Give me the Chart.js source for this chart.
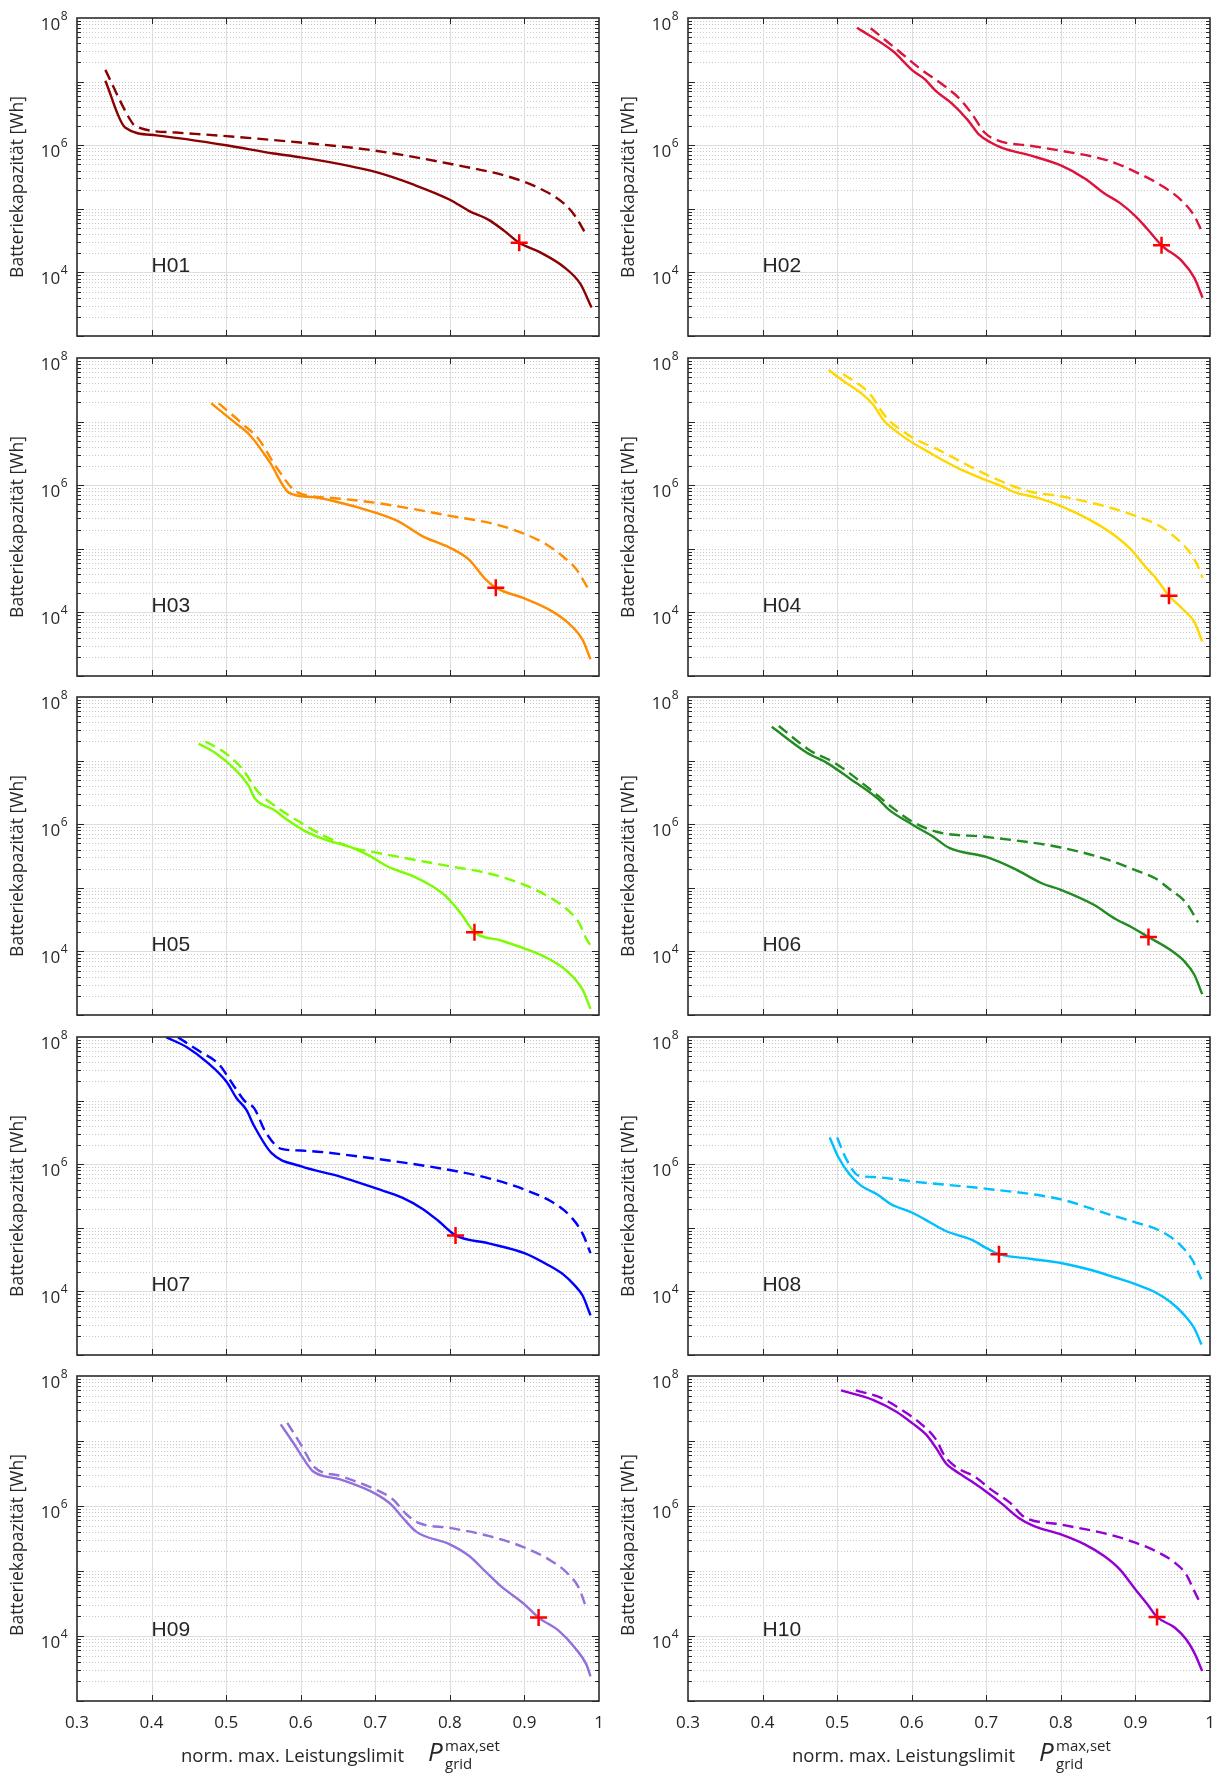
<!DOCTYPE html>
<html>
<head>
<meta charset="utf-8">
<script src="https://cdn.jsdelivr.net/npm/chart.js@4/dist/chart.umd.min.js"></script>
<style>
  body { margin: 0; background: #fff; width: 1220px; height: 1778px; position: relative; overflow: hidden; }
  canvas { position: absolute; }
</style>
</head>
<body>
<script>
const limitTicks = [0.3, 0.4, 0.5, 0.6, 0.7, 0.8, 0.9, 1];
const capExponents = [4, 6, 8];
const houseNames = ['H01', 'H02', 'H03', 'H04', 'H05', 'H06', 'H07', 'H08', 'H09', 'H10'];
const houseColors = ['#8b0000', '#dc143c', '#ff8c00', '#ffd700', '#7cfc00', '#228b22', '#0000ff', '#00bfff', '#9370db', '#9400d3'];

// durchgezogen: Kapazitaet ueber norm. Leistungslimit
const h01Limit = [0.338, 0.3645, 0.4065, 0.5, 0.5638, 0.6, 0.7, 0.7525, 0.8, 0.826, 0.852, 0.873, 0.893, 0.92, 0.952, 0.975, 0.99];
const h01Cap = [1.03e7, 1.9e6, 1.43e6, 1.0e6, 7.4e5, 6.45e5, 3.8e5, 2.37e5, 1.39e5, 9.2e4, 6.7e4, 4.5e4, 2.93e4, 2.1e4, 1.24e4, 6.6e3, 2.8e3];
const h02Limit = [0.5267, 0.575, 0.601, 0.617, 0.633, 0.654, 0.675, 0.69, 0.706, 0.722, 0.759, 0.8, 0.832, 0.858, 0.879, 0.9, 0.916, 0.935, 0.963, 0.979, 0.99];
const h02Cap = [7.0e7, 3.0e7, 1.5e7, 1.1e7, 7.0e6, 4.5e6, 2.5e6, 1.48e6, 1.1e6, 9.0e5, 6.9e5, 4.8e5, 3.0e5, 1.76e5, 1.24e5, 7.7e4, 4.8e4, 2.67e4, 1.48e4, 8.2e3, 4.0e3];
const h03Limit = [0.48, 0.511, 0.532, 0.5585, 0.585, 0.616, 0.6424, 0.7, 0.7316, 0.763, 0.8, 0.826, 0.847, 0.8616, 0.9, 0.931, 0.957, 0.978, 0.9886];
const h03Cap = [1.94e7, 9.8e6, 6.1e6, 2.31e6, 7.5e5, 6.5e5, 5.7e5, 3.7e5, 2.67e5, 1.58e5, 1.04e5, 6.7e4, 3.4e4, 2.45e4, 1.66e4, 1.14e4, 7.1e3, 3.7e3, 1.83e3];
const h04Limit = [0.4884, 0.509, 0.533, 0.5487, 0.5618, 0.5907, 0.627, 0.664, 0.7, 0.722, 0.7375, 0.769, 0.8, 0.837, 0.869, 0.895, 0.911, 0.927, 0.945, 0.963, 0.979, 0.9895];
const h04Cap = [6.5e7, 4.3e7, 2.76e7, 1.82e7, 1.07e7, 5.6e6, 3.1e6, 1.81e6, 1.2e6, 9.5e5, 7.8e5, 6.3e5, 4.7e5, 2.93e5, 1.72e5, 9.5e4, 5.6e4, 3.5e4, 1.83e4, 1.14e4, 7.1e3, 3.5e3];
const h05Limit = [0.463, 0.4851, 0.5113, 0.5297, 0.5386, 0.5638, 0.5847, 0.6057, 0.637, 0.6686, 0.692, 0.7158, 0.7525, 0.7735, 0.7945, 0.8155, 0.833, 0.868, 0.9, 0.931, 0.957, 0.978, 0.9886];
const h05Cap = [1.85e7, 1.33e7, 7.4e6, 4.1e6, 2.54e6, 1.68e6, 1.11e6, 7.8e5, 5.5e5, 4.3e5, 3.2e5, 2.18e5, 1.49e5, 1.11e5, 7.4e4, 3.85e4, 2.0e4, 1.49e4, 1.11e4, 7.8e3, 4.9e3, 2.5e3, 1.25e3];
const h06Limit = [0.4123, 0.4595, 0.4857, 0.5172, 0.554, 0.5697, 0.6, 0.6274, 0.651, 0.7008, 0.7375, 0.7743, 0.8, 0.843, 0.874, 0.895, 0.9175, 0.947, 0.966, 0.979, 0.9895];
const h06Cap = [3.4e7, 1.33e7, 9.3e6, 5.2e6, 2.54e6, 1.68e6, 1.0e6, 6.5e5, 4.2e5, 3.03e5, 2.0e5, 1.18e5, 9.3e4, 5.5e4, 3.2e4, 2.4e4, 1.68e4, 1.05e4, 6.9e3, 4.3e3, 2.13e3];
const h07Limit = [0.4196, 0.4484, 0.4746, 0.5008, 0.514, 0.527, 0.5375, 0.561, 0.6, 0.6529, 0.7, 0.7368, 0.763, 0.784, 0.8076, 0.852, 0.9, 0.931, 0.952, 0.968, 0.978, 0.9886];
const h07Cap = [9.9e7, 6.8e7, 4.0e7, 1.96e7, 1.09e7, 7.2e6, 4.0e6, 1.49e6, 9.3e5, 6.4e5, 4.2e5, 2.96e5, 2.0e5, 1.3e5, 7.6e4, 5.7e4, 4.0e4, 2.63e4, 1.85e4, 1.22e4, 8.6e3, 4.2e3];
const h08Limit = [0.49, 0.5015, 0.5172, 0.532, 0.554, 0.5723, 0.6, 0.617, 0.6457, 0.68, 0.7008, 0.717, 0.7585, 0.8, 0.843, 0.874, 0.9, 0.9265, 0.947, 0.966, 0.979, 0.9885];
const h08Cap = [2.63e6, 1.3e6, 6.8e5, 4.6e5, 3.33e5, 2.34e5, 1.74e5, 1.37e5, 8.9e4, 6.5e4, 4.75e4, 3.85e4, 3.26e4, 2.8e4, 2.13e4, 1.64e4, 1.3e4, 9.7e3, 6.8e3, 4.2e3, 2.63e3, 1.46e3];
const h09Limit = [0.5732, 0.59, 0.603, 0.616, 0.653, 0.7, 0.721, 0.7368, 0.7552, 0.8, 0.826, 0.847, 0.868, 0.9, 0.919, 0.9466, 0.9676, 0.983, 0.9886];
const h09Cap = [1.8e7, 9.4e6, 5.5e6, 3.45e6, 2.57e6, 1.55e6, 1.06e6, 6.6e5, 4.0e5, 2.57e5, 1.7e5, 1.0e5, 5.9e4, 3.07e4, 1.92e4, 1.19e4, 6.6e3, 3.66e3, 2.4e3];
const h10Limit = [0.5051, 0.5487, 0.58, 0.601, 0.6197, 0.633, 0.646, 0.6565, 0.68, 0.7, 0.722, 0.743, 0.764, 0.8, 0.832, 0.858, 0.879, 0.9, 0.916, 0.929, 0.953, 0.968, 0.979, 0.9895];
const h10Cap = [6.0e7, 4.27e7, 2.8e7, 1.87e7, 1.24e7, 7.7e6, 4.5e6, 3.6e6, 2.4e6, 1.66e6, 1.06e6, 6.6e5, 4.9e5, 3.66e5, 2.57e5, 1.7e5, 1.06e5, 5.2e4, 3.07e4, 1.96e4, 1.34e4, 8.9e3, 5.5e3, 2.9e3];

// gestrichelt: Vergleichskurve
const h01LimitDash = [0.338, 0.37, 0.378, 0.433, 0.5, 0.6, 0.7, 0.8, 0.879, 0.915, 0.952, 0.968, 0.983];
const h01CapDash = [1.53e7, 2.67e6, 2.0e6, 1.58e6, 1.39e6, 1.1e6, 8.2e5, 5.1e5, 3.2e5, 2.24e5, 1.24e5, 7.7e4, 3.9e4];
const h02LimitDash = [0.545, 0.58, 0.612, 0.643, 0.664, 0.68, 0.698, 0.717, 0.759, 0.8, 0.864, 0.9, 0.937, 0.963, 0.979, 0.99];
const h02CapDash = [6.9e7, 3.2e7, 1.57e7, 8.7e6, 5.4e6, 3.2e6, 1.57e6, 1.17e6, 9.8e5, 8.2e5, 5.7e5, 3.8e5, 2.24e5, 1.31e5, 7.7e4, 4.17e4];
const h03LimitDash = [0.49, 0.522, 0.543, 0.569, 0.595, 0.6424, 0.7, 0.8, 0.863, 0.9, 0.931, 0.952, 0.97, 0.986];
const h03CapDash = [1.94e7, 9.2e6, 5.4e6, 1.8e6, 7.8e5, 6.3e5, 5.3e5, 3.3e5, 2.4e5, 1.72e5, 1.14e5, 7.5e4, 4.7e4, 2.3e4];
const h04LimitDash = [0.508, 0.5434, 0.5644, 0.596, 0.638, 0.675, 0.706, 0.732, 0.759, 0.8, 0.864, 0.9, 0.932, 0.953, 0.969, 0.982, 0.99];
const h04CapDash = [5.6e7, 2.76e7, 1.22e7, 6.1e6, 3.5e6, 2.06e6, 1.36e6, 1.01e6, 7.9e5, 6.7e5, 4.5e5, 3.3e5, 2.3e5, 1.53e5, 1.0e5, 5.9e4, 3.5e4];
const h05LimitDash = [0.472, 0.4956, 0.5218, 0.543, 0.5638, 0.6005, 0.632, 0.6686, 0.7, 0.8, 0.8523, 0.9, 0.931, 0.957, 0.973, 0.983, 0.99];
const h05CapDash = [2.0e7, 1.4e7, 7.4e6, 3.2e6, 2.0e6, 1.05e6, 6.5e5, 4.3e5, 3.6e5, 2.18e5, 1.68e5, 1.11e5, 7.4e4, 4.6e4, 2.86e4, 1.58e4, 1.18e4];
const h06LimitDash = [0.4217, 0.4647, 0.4962, 0.5487, 0.5723, 0.6, 0.633, 0.7008, 0.8, 0.8635, 0.9, 0.9265, 0.947, 0.968, 0.984];
const h06CapDash = [3.5e7, 1.42e7, 9.3e6, 3.2e6, 1.89e6, 1.11e6, 7.6e5, 6.3e5, 4.3e5, 2.75e5, 1.89e5, 1.41e5, 9.3e4, 5.8e4, 2.86e4];
const h07LimitDash = [0.4353, 0.464, 0.49, 0.5113, 0.5244, 0.5375, 0.5533, 0.5743, 0.6, 0.7, 0.8, 0.8523, 0.9, 0.942, 0.963, 0.978, 0.9886];
const h07CapDash = [9.9e7, 6.0e7, 3.75e7, 1.64e7, 1.0e7, 7.6e6, 3.14e6, 1.74e6, 1.64e6, 1.22e6, 8.1e5, 6.0e5, 4.0e5, 2.35e5, 1.46e5, 8.1e4, 4.0e4];
const h08LimitDash = [0.5, 0.512, 0.529, 0.5488, 0.6, 0.7008, 0.8, 0.8635, 0.9, 0.932, 0.958, 0.976, 0.9885];
const h08CapDash = [2.63e6, 1.22e6, 6.6e5, 6.3e5, 5.35e5, 4.1e5, 2.8e5, 1.64e5, 1.22e5, 9.1e4, 5.7e4, 3.15e4, 1.55e4];
const h09LimitDash = [0.582, 0.6, 0.619, 0.653, 0.7, 0.7237, 0.742, 0.758, 0.8, 0.852, 0.9, 0.936, 0.957, 0.973, 0.983];
const h09CapDash = [1.9e7, 8.9e6, 3.9e6, 2.9e6, 1.8e6, 1.26e6, 7.4e5, 5.5e5, 4.6e5, 3.46e5, 2.3e5, 1.43e5, 9.4e4, 5.5e4, 2.7e4];
const h10LimitDash = [0.525, 0.559, 0.5907, 0.6117, 0.633, 0.6434, 0.659, 0.685, 0.706, 0.732, 0.75, 0.8, 0.864, 0.9, 0.932, 0.953, 0.968, 0.979, 0.987];
const h10CapDash = [6.0e7, 4.6e7, 2.8e7, 1.87e7, 1.04e7, 6.1e6, 4.0e6, 2.8e6, 1.8e6, 1.12e6, 6.9e5, 5.2e5, 3.66e5, 2.73e5, 1.9e5, 1.34e5, 8.9e4, 4.9e4, 3.2e4];

// gewaehlter Betriebspunkt (rotes Kreuz)
const markLimit = [0.893, 0.935, 0.8616, 0.945, 0.833, 0.9175, 0.8076, 0.717, 0.919, 0.929];
const markCap = [2.93e4, 2.67e4, 2.45e4, 1.83e4, 2.0e4, 1.68e4, 7.6e4, 3.85e4, 1.92e4, 1.96e4];

const solidLimits = [h01Limit, h02Limit, h03Limit, h04Limit, h05Limit, h06Limit, h07Limit, h08Limit, h09Limit, h10Limit];
const solidCaps = [h01Cap, h02Cap, h03Cap, h04Cap, h05Cap, h06Cap, h07Cap, h08Cap, h09Cap, h10Cap];
const dashLimits = [h01LimitDash, h02LimitDash, h03LimitDash, h04LimitDash, h05LimitDash, h06LimitDash, h07LimitDash, h08LimitDash, h09LimitDash, h10LimitDash];
const dashCaps = [h01CapDash, h02CapDash, h03CapDash, h04CapDash, h05CapDash, h06CapDash, h07CapDash, h08CapDash, h09CapDash, h10CapDash];

const panelTops = [17, 357, 696, 1036, 1375];
const AXIS = '#262626';

function pairs(xs, ys) {
    return xs.map((x, i) => ({ x: x, y: ys[i] }));
}

function hline(ctx, x0, x1, y) {
    ctx.beginPath(); ctx.moveTo(x0, y); ctx.lineTo(x1, y); ctx.stroke();
}
function vline(ctx, x, y0, y1) {
    ctx.beginPath(); ctx.moveTo(x, y0); ctx.lineTo(x, y1); ctx.stroke();
}

// MATLAB-artiges Gitter, Rahmen, Ticks nach innen und Beschriftungen
const panelDecor = {
    id: 'panelDecor',
    beforeDatasetsDraw(chart, args, opts) {
        const { ctx, chartArea: a, scales: { x, y } } = chart;
        ctx.save();
        ctx.lineWidth = 1;
        // Nebengitter (gepunktet)
        ctx.strokeStyle = '#c9c9c9';
        ctx.setLineDash([1, 2]);
        for (let e = 3; e < 8; e++) {
            for (let m = 1; m < 10; m++) {
                if (m === 1 && (e === 3 || e % 2 === 0)) continue;
                const py = Math.round(y.getPixelForValue(m * Math.pow(10, e))) + 0.5;
                hline(ctx, a.left, a.right, py);
            }
        }
        // Hauptgitter
        ctx.setLineDash([]);
        ctx.strokeStyle = '#dedede';
        capExponents.forEach(e => {
            if (e === 8) return;
            const py = Math.round(y.getPixelForValue(Math.pow(10, e))) + 0.5;
            hline(ctx, a.left, a.right, py);
        });
        limitTicks.slice(1, -1).forEach(v => {
            const px = Math.round(x.getPixelForValue(v)) + 0.5;
            vline(ctx, px, a.top, a.bottom);
        });
        ctx.restore();
    },
    afterDatasetsDraw(chart, args, opts) {
        const { ctx, chartArea: a, scales: { x, y } } = chart;
        ctx.save();
        ctx.strokeStyle = AXIS;
        ctx.lineWidth = 1;
        // Ticks nach innen
        limitTicks.slice(1, -1).forEach(v => {
            const px = Math.round(x.getPixelForValue(v)) + 0.5;
            vline(ctx, px, a.bottom, a.bottom - 6);
            vline(ctx, px, a.top, a.top + 6);
        });
        for (let e = 3; e < 8; e++) {
            for (let m = 1; m < 10; m++) {
                const py = Math.round(y.getPixelForValue(m * Math.pow(10, e))) + 0.5;
                const len = m === 1 ? 7 : 4;
                hline(ctx, a.left, a.left + len, py);
                hline(ctx, a.right, a.right - len, py);
            }
        }
        // Rahmen
        ctx.lineWidth = 1.6;
        ctx.strokeStyle = '#2b2b2b';
        ctx.strokeRect(a.left, a.top, a.right - a.left, a.bottom - a.top);

        // y-Tickbeschriftung 10^n
        ctx.fillStyle = AXIS;
        ctx.textAlign = 'left';
        ctx.textBaseline = 'alphabetic';
        capExponents.forEach(e => {
            const ty = y.getPixelForValue(Math.pow(10, e));
            ctx.font = '17px "Open Sans"';
            const wBase = ctx.measureText('10').width;
            ctx.font = '12px "Open Sans"';
            const wExp = ctx.measureText(String(e)).width;
            const x0 = a.left - 9.5 - wBase - wExp - 0.5;
            ctx.font = '17px "Open Sans"';
            ctx.fillText('10', x0, ty + 12);
            ctx.font = '12px "Open Sans"';
            ctx.fillText(String(e), x0 + wBase + 0.5, ty + 2);
        });

        // Hausbezeichnung
        ctx.font = '21px "Liberation Sans", Arial, sans-serif';
        ctx.fillText(opts.name, x.getPixelForValue(0.4), y.getPixelForValue(1e4));

        // y-Achsentitel
        ctx.save();
        ctx.translate(18, a.top + 169);
        ctx.rotate(-Math.PI / 2);
        ctx.textAlign = 'center';
        ctx.textBaseline = 'middle';
        ctx.font = '17.5px "Open Sans"';
        ctx.fillText('Batteriekapazität [Wh]', 0, 0);
        ctx.restore();

        // x-Achsentitel nur in der unteren Zeile
        if (opts.last) {
            ctx.textAlign = 'left';
            ctx.font = '18.5px "Open Sans"';
            ctx.fillText('norm. max. Leistungslimit', a.left + 104, a.bottom + 61);
            ctx.font = 'italic 26px "Open Sans"';
            ctx.fillText('P', a.left + 351, a.bottom + 60);
            ctx.font = '15px "Open Sans"';
            ctx.fillText('max,set', a.left + 368, a.bottom + 50);
            ctx.fillText('grid', a.left + 368, a.bottom + 68);
        }
        ctx.restore();
    }
};

function makePanel(i) {
    const row = Math.floor(i / 2);
    const col = i % 2;
    const last = row === 4;
    const cv = document.createElement('canvas');
    cv.width = 610;
    cv.height = last ? 413 : 340;
    cv.style.left = (col ? 611 : 0) + 'px';
    cv.style.top = (panelTops[row] - 10) + 'px';
    cv.style.width = cv.width + 'px';
    cv.style.height = cv.height + 'px';
    document.body.appendChild(cv);

    const farbe = houseColors[i];
    return new Chart(cv, {
        type: 'line',
        data: {
            datasets: [{
                data: [{ x: markLimit[i], y: markCap[i] }],
                showLine: false,
                pointStyle: 'cross',
                pointRadius: 8.5,
                pointBorderWidth: 2.5,
                pointBorderColor: '#ff0000',
                borderColor: '#ff0000'
            }, {
                data: pairs(solidLimits[i], solidCaps[i]),
                borderColor: farbe,
                borderWidth: 2.4,
                pointRadius: 0,
                cubicInterpolationMode: 'monotone'
            }, {
                data: pairs(dashLimits[i], dashCaps[i]),
                borderColor: farbe,
                borderWidth: 2.4,
                borderDash: [11, 6],
                pointRadius: 0,
                cubicInterpolationMode: 'monotone'
            }]
        },
        options: {
            responsive: false,
            animation: false,
            events: [],
            layout: { padding: { left: 0, right: 5, top: 10, bottom: last ? 0 : 4 } },
            plugins: {
                legend: { display: false },
                tooltip: { enabled: false },
                panelDecor: { name: houseNames[i], last: last }
            },
            scales: {
                x: {
                    type: 'linear',
                    min: 0.3,
                    max: 1,
                    grid: { display: false },
                    border: { display: false },
                    afterBuildTicks: s => { s.ticks = limitTicks.map(v => ({ value: v })); },
                    afterFit: s => { s.height = last ? 77 : 0; s.paddingLeft = 0; s.paddingRight = 0; },
                    ticks: {
                        display: last,
                        autoSkip: false,
                        maxRotation: 0,
                        padding: 4,
                        color: AXIS,
                        font: { family: 'Open Sans', size: 17 },
                        callback: v => String(+v.toFixed(1))
                    }
                },
                y: {
                    type: 'logarithmic',
                    min: 1e3,
                    max: 1e8,
                    grid: { display: false },
                    border: { display: false },
                    ticks: { display: false },
                    afterFit: s => { s.width = 77; s.paddingTop = 0; s.paddingBottom = 0; }
                }
            }
        },
        plugins: [panelDecor]
    });
}

for (let i = 0; i < houseNames.length; i++) makePanel(i);
</script>
</body>
</html>
